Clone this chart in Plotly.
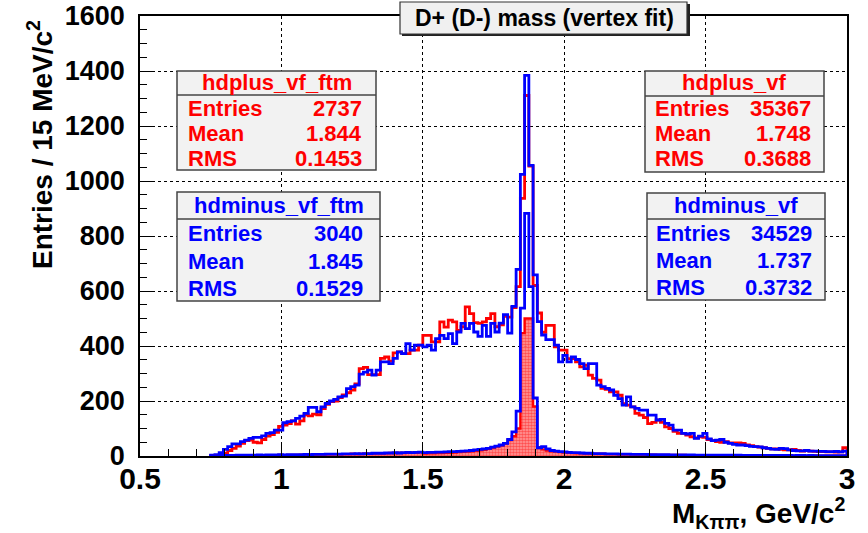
import plotly.graph_objects as go

# ---------------- data ----------------
bin_start = 0.75
bin_width = 0.015

hdplus_vf = [
    1, 2, 4, 10, 20, 28, 36, 46, 56, 58,
    50, 48, 60, 72, 78, 86, 108, 112, 118, 128,
    116, 128, 150, 146, 152, 150, 172, 188, 198, 200,
    212, 222, 230, 240, 262, 318, 322, 296, 296, 296,
    355, 360, 345, 375, 379, 372, 372, 385, 385, 403,
    439, 439, 415, 415, 488, 469, 494, 488, 457, 470,
    542, 518, 485, 482, 488, 500, 518, 470, 477, 508,
    505, 540, 616, 937, 1311, 1054, 620, 520, 450, 475,
    475, 397, 385, 385, 354, 354, 342, 324, 330, 294,
    282, 276, 246, 242, 233, 233, 221, 190, 185, 179,
    155, 149, 140, 118, 122, 131, 122, 106, 100, 90,
    82, 82, 76, 70, 66, 70, 68, 60, 56, 52,
    50, 52, 48, 48, 48, 46, 40, 38, 34, 32,
    30, 28, 26, 26, 24, 22, 22, 24, 20, 18,
    20, 18, 17, 16, 16, 15, 15, 14, 15, 30,
]

hdminus_vf = [
    3, 5, 12, 24, 34, 44, 44, 52, 58, 64,
    68, 68, 73, 82, 85, 94, 94, 121, 125, 128,
    137, 145, 155, 177, 177, 161, 179, 191, 200, 206,
    215, 218, 245, 252, 258, 298, 305, 312, 294, 312,
    342, 342, 336, 355, 379, 372, 409, 385, 403, 403,
    397, 403, 385, 427, 439, 427, 445, 409, 451, 482,
    463, 482, 451, 435, 475, 435, 482, 451, 483, 514,
    447, 544, 679, 1024, 1384, 1057, 659, 489, 440, 423,
    423, 403, 342, 366, 342, 360, 351, 336, 318, 336,
    336, 258, 252, 246, 240, 221, 209, 185, 215, 179,
    173, 167, 167, 149, 149, 131, 133, 119, 112, 94,
    94, 82, 80, 82, 64, 72, 82, 62, 56, 58,
    60, 50, 46, 42, 40, 40, 38, 35, 34, 33,
    30, 28, 25, 24, 28, 27, 22, 20, 19, 19,
    20, 18, 18, 17, 17, 16, 16, 17, 15, 18,
]

hdplus_vf_ftm = [
    0, 1, 1, 1, 2, 1, 2, 2, 2, 3,
    2, 3, 3, 2, 3, 3, 4, 3, 4, 4,
    4, 5, 4, 5, 5, 6, 5, 6, 6, 7,
    6, 7, 7, 8, 7, 8, 9, 8, 9, 10,
    9, 10, 11, 10, 12, 11, 12, 13, 12, 14,
    9, 10, 10, 11, 11, 12, 12, 13, 14, 15,
    16, 17, 19, 21, 23, 26, 30, 34, 38, 45,
    58, 72, 100, 447, 500, 500, 180, 32, 24, 20,
    17, 16, 14, 13, 12, 11, 10, 10, 9, 9,
    8, 8, 8, 7, 7, 7, 6, 6, 6, 6,
    5, 5, 5, 5, 5, 4, 4, 4, 4, 4,
    4, 4, 3, 3, 3, 3, 3, 3, 3, 3,
    3, 2, 3, 2, 2, 3, 2, 2, 2, 2,
    2, 2, 2, 2, 2, 1, 2, 1, 2, 1,
    1, 1, 2, 1, 1, 1, 1, 1, 1, 1,
]

hdminus_vf_ftm = [
    1, 1, 2, 2, 2, 2, 3, 3, 3, 3,
    3, 4, 3, 4, 4, 4, 5, 4, 5, 5,
    5, 5, 6, 5, 6, 6, 6, 7, 7, 7,
    7, 8, 8, 8, 9, 8, 9, 9, 10, 10,
    10, 11, 11, 12, 11, 12, 13, 12, 13, 14,
    12, 13, 13, 14, 14, 15, 16, 16, 17, 18,
    19, 20, 22, 24, 26, 28, 32, 36, 40, 46,
    60, 88, 163, 538, 882, 616, 211, 30, 34, 26,
    20, 18, 16, 15, 13, 12, 12, 11, 10, 10,
    9, 9, 9, 8, 8, 8, 7, 7, 7, 6,
    6, 6, 6, 5, 5, 5, 5, 5, 4, 4,
    4, 4, 4, 4, 3, 3, 3, 3, 3, 3,
    3, 3, 3, 3, 3, 2, 2, 2, 2, 2,
    2, 2, 2, 2, 2, 2, 2, 1, 2, 2,
    1, 2, 1, 1, 1, 1, 1, 1, 1, 1,
]

x_tickvals = [0.5, 1.0, 1.5, 2.0, 2.5, 3.0]
x_ticktext = ["0.5", "1", "1.5", "2", "2.5", "3"]
y_tickvals = [0, 200, 400, 600, 800, 1000, 1200, 1400, 1600]

stat_titles = ["hdplus_vf_ftm", "hdminus_vf_ftm", "hdplus_vf", "hdminus_vf"]
stat_entries = ["2737", "3040", "35367", "34529"]
stat_means = ["1.844", "1.845", "1.748", "1.737"]
stat_rms = ["0.1453", "0.1529", "0.3688", "0.3732"]

chart_title = "D+ (D-) mass (vertex fit)"
x_title = "M<sub>K\u03c0\u03c0</sub>, GeV/c<sup>2</sup>"
y_title = "Entries / 15 MeV/c<sup>2</sup>"

# ---------------- layout geometry (pixels) ----------------
W, H = 868, 533
PL, PR, PT, PB = 140, 847, 16, 456
FONT = "Liberation Sans, Arial, Helvetica, sans-serif"
RED = "#ff0000"
BLUE = "#0000ff"


def px(x):
    return (x - PL) / (PR - PL)


def py(y):
    return (PB - y) / (PB - PT)


def step(vals):
    edges = [bin_start + i * bin_width for i in range(len(vals) + 1)]
    xs = [edges[0]] + edges[:-1] + [edges[-1]]
    ys = [0] + list(vals) + [0]
    return xs, ys


fig = go.Figure()

x, y = step(hdplus_vf)
fig.add_trace(go.Scatter(x=x, y=y, mode="lines", line=dict(color=RED, width=2.8, shape="hv"),
                         name="hdplus_vf", showlegend=False, hoverinfo="skip"))
x, y = step(hdminus_vf)
fig.add_trace(go.Scatter(x=x, y=y, mode="lines", line=dict(color=BLUE, width=2.8, shape="hv"),
                         name="hdminus_vf", showlegend=False, hoverinfo="skip"))
x, y = step(hdplus_vf_ftm)
fig.add_trace(go.Scatter(x=x, y=y, mode="lines", line=dict(color=RED, width=2.4, shape="hv"),
                         fill="tozeroy",
                         fillpattern=dict(shape=".", fgcolor=RED, bgcolor="rgba(255,150,150,0.9)",
                                          size=3, solidity=0.6),
                         name="hdplus_vf_ftm", showlegend=False, hoverinfo="skip"))
x, y = step(hdminus_vf_ftm)
fig.add_trace(go.Scatter(x=x, y=y, mode="lines", line=dict(color=BLUE, width=2.8, shape="hv"),
                         name="hdminus_vf_ftm", showlegend=False, hoverinfo="skip"))

shapes = []
annotations = []

# title box
shapes.append(dict(type="rect", xref="paper", yref="paper",
                   x0=px(402), x1=px(690), y0=py(36), y1=py(4),
                   fillcolor="#222222", line=dict(width=0), layer="above"))
shapes.append(dict(type="rect", xref="paper", yref="paper",
                   x0=px(400), x1=px(687), y0=py(34), y1=py(2),
                   fillcolor="#f0f0f0", line=dict(color="#333333", width=1.2), layer="above"))
annotations.append(dict(xref="paper", yref="paper", x=px(544), y=py(18), text="<b>" + chart_title + "</b>",
                        showarrow=False, xanchor="center", yanchor="middle",
                        font=dict(family=FONT, size=23, color="black")))

# stat boxes: (left, right, top, sep, bottom, title_y, row_ys, label_x, value_x, color)
boxes = [
    (177, 376, 71, 95, 170, 83, (108, 133, 158), 186, 364, RED),
    (177, 380, 192, 219, 301, 205, (233, 261, 288), 186, 365, BLUE),
    (645, 824, 71, 96, 172, 83, (109, 133, 158), 653, 813, RED),
    (647, 825, 193, 219, 300, 205, (233, 260, 287), 654, 814, BLUE),
]
for i, (l, r, t, s, b, ty, rows, lx, vx, col) in enumerate(boxes):
    shapes.append(dict(type="rect", xref="paper", yref="paper",
                       x0=px(l), x1=px(r), y0=py(b), y1=py(t),
                       fillcolor="#f2f2f2", line=dict(color="#444444", width=1.5), layer="above"))
    shapes.append(dict(type="line", xref="paper", yref="paper",
                       x0=px(l), x1=px(r), y0=py(s), y1=py(s),
                       line=dict(color="#444444", width=1.5), layer="above"))
    annotations.append(dict(xref="paper", yref="paper", x=px((l + r) / 2), y=py(ty),
                            text="<b>" + stat_titles[i] + "</b>", showarrow=False,
                            xanchor="center", yanchor="middle",
                            font=dict(family=FONT, size=22, color=col)))
    for lab, val, ry in zip(["Entries", "Mean", "RMS"],
                            [stat_entries[i], stat_means[i], stat_rms[i]], rows):
        annotations.append(dict(xref="paper", yref="paper", x=px(lx), y=py(ry),
                                text="<b>" + lab + "</b>", showarrow=False,
                                xanchor="left", yanchor="middle",
                                font=dict(family=FONT, size=22, color=col)))
        annotations.append(dict(xref="paper", yref="paper", x=px(vx), y=py(ry),
                                text="<b>" + val + "</b>", showarrow=False,
                                xanchor="right", yanchor="middle",
                                font=dict(family=FONT, size=22, color=col)))

# axis titles
annotations.append(dict(xref="paper", yref="paper", x=px(40), y=py(145),
                        text="<b>" + y_title + "</b>", textangle=-90, showarrow=False,
                        xanchor="center", yanchor="middle",
                        font=dict(family=FONT, size=28, color="black")))
annotations.append(dict(xref="paper", yref="paper", x=px(847), y=py(513),
                        text="<b>" + x_title + "</b>", showarrow=False,
                        xanchor="right", yanchor="middle",
                        font=dict(family=FONT, size=28, color="black")))

fig.update_layout(
    width=W, height=H,
    margin=dict(l=PL, r=W - PR, t=PT, b=H - PB, pad=0),
    paper_bgcolor="white", plot_bgcolor="white",
    showlegend=False,
    shapes=shapes, annotations=annotations,
    xaxis=dict(range=[0.5, 3.0], tickvals=x_tickvals, ticktext=x_ticktext,
               ticks="inside", ticklen=13, tickwidth=1.2, tickcolor="black",
               minor=dict(dtick=0.1, tick0=0.5, ticks="inside", ticklen=7, tickcolor="black", showgrid=False),
               showgrid=True, gridcolor="black", griddash="dot", gridwidth=1,
               showline=True, linecolor="black", linewidth=1.5, mirror=True,
               zeroline=False, automargin=False,
               tickfont=dict(family=FONT, size=30, color="black", weight="bold"),
               ticklabelstandoff=-5),
    yaxis=dict(range=[0, 1600], tickvals=y_tickvals,
               ticks="inside", ticklen=15, tickwidth=1.2, tickcolor="black",
               minor=dict(dtick=50, tick0=0, ticks="inside", ticklen=7, tickcolor="black", showgrid=False),
               showgrid=True, gridcolor="black", griddash="dot", gridwidth=1,
               showline=True, linecolor="black", linewidth=1.5, mirror=True,
               zeroline=False, automargin=False,
               tickfont=dict(family=FONT, size=27, color="black", weight="bold"),
               ticklabelstandoff=8),
)

fig.write_html("out.html", config={"displayModeBar": False},
               post_script="document.body.style.margin='0px';document.body.style.padding='0px';")
